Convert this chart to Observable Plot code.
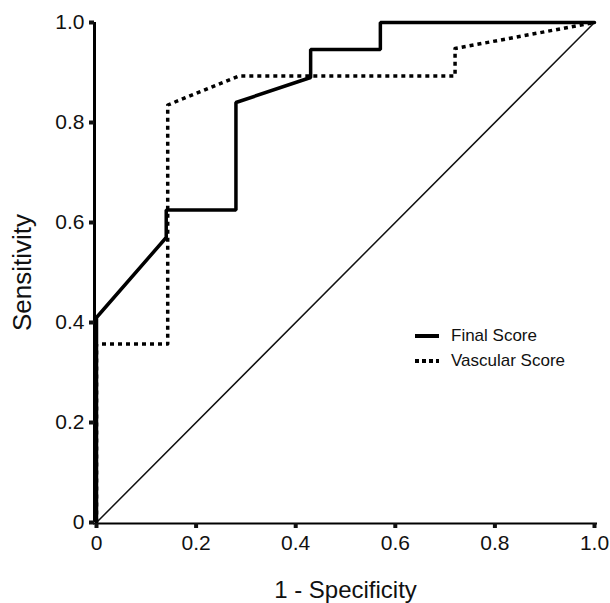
<!DOCTYPE html>
<html>
<head>
<meta charset="utf-8">
<script src="https://cdn.jsdelivr.net/npm/d3@7"></script>
<script src="https://cdn.jsdelivr.net/npm/@observablehq/plot@0.6"></script>
<style>
  html, body { margin: 0; padding: 0; background: #fff; }
  #wrap { position: relative; width: 610px; height: 603px; font-family: "Liberation Sans", Arial, sans-serif; }
  #legend { position: absolute; left: 415px; top: 323px; font-size: 17px; color: #111; line-height: 25px; }
  #legend div { display: flex; align-items: center; }
  #legend svg { margin-right: 12px; }
</style>
</head>
<body>
<div id="wrap">
  <div id="chart"></div>
  <div id="legend"></div>
</div>
<script>
const finalX = [0, 0, 0.14, 0.14, 0.28, 0.28, 0.43, 0.43, 0.57, 0.57, 1.0];
const finalY = [0, 0.41, 0.57, 0.625, 0.625, 0.84, 0.89, 0.946, 0.946, 1.0, 1.0];
const vascX = [0, 0, 0.143, 0.143, 0.286, 0.72, 0.72, 1.0];
const vascY = [0, 0.357, 0.357, 0.835, 0.893, 0.893, 0.948, 1.0];
const refX = [0, 1];
const refY = [0, 1];
const ticks = [0, 0.2, 0.4, 0.6, 0.8, 1.0];
const seriesNames = ["Final Score", "Vascular Score"];
const xLabel = "1 - Specificity";
const yLabel = "Sensitivity";

const toPts = (xs, ys) => xs.map((x, i) => ({x, y: ys[i]}));
const fmt = d => d === 0 ? "0" : d.toFixed(1);

const chart = Plot.plot({
  width: 610,
  height: 603,
  marginLeft: 96,
  marginRight: 16,
  marginTop: 22,
  marginBottom: 81,
  style: {fontFamily: "Liberation Sans, Arial, sans-serif", color: "#111", background: "#fff"},
  x: {domain: [0, 1]},
  y: {domain: [0, 1]},
  marks: [
    Plot.line(toPts(refX, refY), {x: "x", y: "y", stroke: "#111", strokeWidth: 1.5}),
    Plot.line(toPts(vascX, vascY), {x: "x", y: "y", stroke: "#000", strokeWidth: 3.5, strokeDasharray: "4,4", strokeLinecap: "butt"}),
    Plot.line(toPts(finalX, finalY), {x: "x", y: "y", stroke: "#000", strokeWidth: 3.5, strokeLinejoin: "miter"}),
    Plot.ruleX([0], {y1: 0, y2: 1, stroke: "#000", strokeWidth: 3, dx: -2}),
    Plot.ruleY([0], {x1: 0, x2: 1, stroke: "#000", strokeWidth: 2, dy: 1, insetLeft: -3, insetRight: -3}),
    Plot.axisY({ticks, tickFormat: fmt, tickSize: 5, strokeWidth: 4, tickPadding: 5, fontSize: 21, label: null, dx: -2}),
    Plot.axisX({ticks, tickFormat: fmt, tickSize: 5, strokeWidth: 4, tickPadding: 7, fontSize: 21, label: null, dy: 1}),
    Plot.text([xLabel], {frameAnchor: "bottom", dy: 68, fontSize: 24, fill: "#111", lineAnchor: "middle", textAnchor: "middle"}),
    Plot.text([yLabel], {frameAnchor: "left", dx: -74, rotate: -90, fontSize: 26, fill: "#111", lineAnchor: "middle", textAnchor: "middle"})
  ]
});
document.getElementById("chart").appendChild(chart);

const legend = document.getElementById("legend");
seriesNames.forEach((name, i) => {
  const row = document.createElement("div");
  const dash = i === 0 ? "" : 'stroke-dasharray="4,3"';
  row.innerHTML = `<svg width="24" height="6"><line x1="0" y1="3" x2="24" y2="3" stroke="#000" stroke-width="4" ${dash}/></svg><span>${name}</span>`;
  legend.appendChild(row);
});
</script>
</body>
</html>
